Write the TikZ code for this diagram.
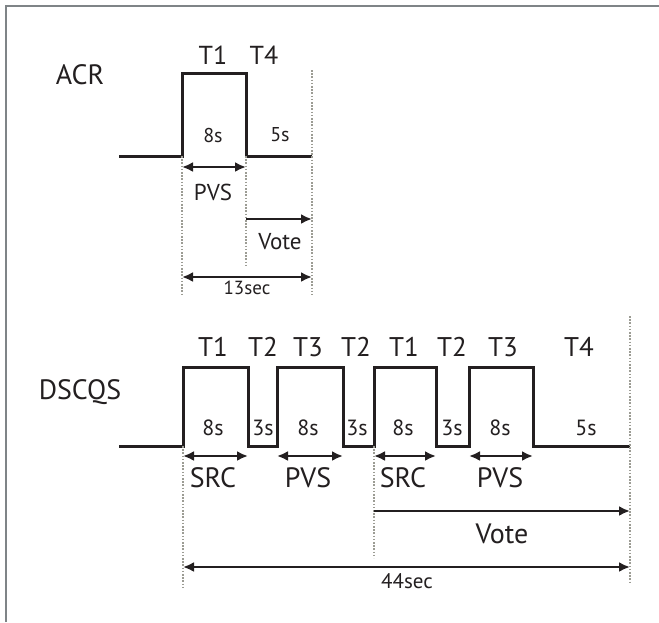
\documentclass[tikz,border=0pt]{standalone}
\usepackage{fontspec}
\setmainfont{PT Sans}
\usepackage{tikz}
\usetikzlibrary{arrows.meta, positioning, calc}
\usepackage{xcolor}
\definecolor{frameline}{HTML}{7F8487}
\definecolor{guidegray}{HTML}{9C9C94}
\definecolor{inkdark}{HTML}{231F20}

\tikzset{
    wave/.style={draw=inkdark, line width=3pt, line join=miter},
    span/.style={draw=inkdark, line width=2.2pt, {Latex[length=11pt,width=10pt]}-{Latex[length=11pt,width=10pt]}},
    spanright/.style={draw=inkdark, line width=2.2pt, -{Latex[length=11pt,width=10pt]}},
    guide/.style={draw=guidegray, line width=2pt, dash pattern=on 1.6pt off 1.6pt},
    lbl/.style={text=inkdark, inner sep=0pt, anchor=center}
}

\begin{document}
\begin{tikzpicture}[x=1pt, y=-1pt]
    \useasboundingbox (0,0) rectangle (659,622);
    \draw[frameline, line width=2pt] (6,622) -- (6,6) -- (659,6);

    % ACR timing
    \node[lbl, font=\fontsize{28}{31}\selectfont] (acr) at (80,75) {ACR};
    \coordinate (a0) at (119,156);
    \coordinate (a1) at (182,156);
    \coordinate (a2) at (246,156);
    \coordinate (a3) at (312,156);
    \draw[wave] (a0) -- (a1) -- ++(0,-83) -| (a2) -- (a3);
    \coordinate (aend) at (312,70);
    \coordinate (aL) at (182,295);
    \coordinate (aM) at (246,265);
    \coordinate (aR) at (312,295);
    \draw[guide] (a1) -- (aL);
    \draw[guide] (a2) -- (aM);
    \draw[guide] (aend) -- (aR);
    \node[lbl, font=\fontsize{26}{29}\selectfont] (acrT1) at (213,55) {T1};
    \node[lbl, font=\fontsize{26}{29}\selectfont] (acrT4) at (264,55) {T4};
    \node[lbl, font=\fontsize{20}{23}\selectfont] (acrP) at (213,135) {8s};
    \node[lbl, font=\fontsize{20}{23}\selectfont] (acrV) at (280,135) {5s};
    \coordinate (pvsA) at (182,167);
    \coordinate (pvsB) at (246,167);
    \draw[span] (pvsA) -- (pvsB);
    \node[lbl, font=\fontsize{23}{26}\selectfont] (acrPVS) at (213,192) {PVS};
    \coordinate (voteA) at (246,219);
    \coordinate (voteB) at (312,219);
    \draw[spanright] (voteA) -- (voteB);
    \node[lbl, font=\fontsize{23}{26}\selectfont] (acrVote) at (280,242) {Vote};
    \coordinate (totA) at (182,277);
    \coordinate (totB) at (312,277);
    \draw[span] (totA) -- (totB);
    \node[lbl, font=\fontsize{19}{22}\selectfont] (acrTot) at (247,288) {13sec};

    % DSCQS timing
    \node[lbl, font=\fontsize{28}{31}\selectfont] (dscqs) at (80,392) {DSCQS};
    \coordinate (d0) at (119,446);
    \coordinate (d1) at (183,446);
    \coordinate (d2) at (248,446);
    \coordinate (d3) at (277,446);
    \coordinate (d4) at (343,446);
    \coordinate (d5) at (374,446);
    \coordinate (d6) at (436,446);
    \coordinate (d7) at (469,446);
    \coordinate (d8) at (533,446);
    \coordinate (d9) at (630,446);
    \draw[wave] (d0) -- (d1) -- ++(0,-79) -| (d2) -- (d3) -- ++(0,-79) -| (d4)
        -- (d5) -- ++(0,-79) -| (d6) -- (d7) -- ++(0,-79) -| (d8) -- (d9);
    \coordinate (dTop) at (630,316);
    \coordinate (dL) at (183,587);
    \coordinate (dM) at (374,558);
    \coordinate (dR) at (630,583);
    \draw[guide] (d1) -- (dL);
    \draw[guide] (d5) -- (dM);
    \draw[guide] (dTop) -- (dR);
    \node[lbl, font=\fontsize{27}{30}\selectfont] (t1a) at (213,347) {T1};
    \node[lbl, font=\fontsize{27}{30}\selectfont] (t2a) at (263,347) {T2};
    \node[lbl, font=\fontsize{27}{30}\selectfont] (t3a) at (308,347) {T3};
    \node[lbl, font=\fontsize{27}{30}\selectfont] (t2b) at (356,347) {T2};
    \node[lbl, font=\fontsize{27}{30}\selectfont] (t1b) at (404,347) {T1};
    \node[lbl, font=\fontsize{27}{30}\selectfont] (t2c) at (452,347) {T2};
    \node[lbl, font=\fontsize{27}{30}\selectfont] (t3b) at (503,347) {T3};
    \node[lbl, font=\fontsize{27}{30}\selectfont] (t4) at (579,347) {T4};
    \node[lbl, font=\fontsize{22}{25}\selectfont] (s1) at (213,428) {8s};
    \node[lbl, font=\fontsize{22}{25}\selectfont] (s2) at (263,428) {3s};
    \node[lbl, font=\fontsize{22}{25}\selectfont] (s3) at (308,428) {8s};
    \node[lbl, font=\fontsize{22}{25}\selectfont] (s4) at (357,428) {3s};
    \node[lbl, font=\fontsize{22}{25}\selectfont] (s5) at (403,428) {8s};
    \node[lbl, font=\fontsize{22}{25}\selectfont] (s6) at (452,428) {3s};
    \node[lbl, font=\fontsize{22}{25}\selectfont] (s7) at (500,428) {8s};
    \node[lbl, font=\fontsize{22}{25}\selectfont] (s8) at (586,428) {5s};
    \coordinate (srcA) at (183,456);
    \coordinate (srcB) at (248,456);
    \coordinate (pvsC) at (277,456);
    \coordinate (pvsD) at (343,456);
    \coordinate (srcC) at (374,456);
    \coordinate (srcD) at (436,456);
    \coordinate (pvsE) at (469,456);
    \coordinate (pvsF) at (533,456);
    \draw[span] (srcA) -- (srcB);
    \draw[span] (pvsC) -- (pvsD);
    \draw[span] (srcC) -- (srcD);
    \draw[span] (pvsE) -- (pvsF);
    \node[lbl, font=\fontsize{28}{31}\selectfont] (src1) at (213,478) {SRC};
    \node[lbl, font=\fontsize{28}{31}\selectfont] (pvs1) at (308,478) {PVS};
    \node[lbl, font=\fontsize{28}{31}\selectfont] (src2) at (403,478) {SRC};
    \node[lbl, font=\fontsize{28}{31}\selectfont] (pvs2) at (500,478) {PVS};
    \coordinate (dvA) at (374,511);
    \coordinate (dvB) at (630,511);
    \draw[spanright] (dvA) -- (dvB);
    \node[lbl, font=\fontsize{28}{31}\selectfont] (dVote) at (502,534) {Vote};
    \coordinate (dtA) at (183,567);
    \coordinate (dtB) at (630,567);
    \draw[span] (dtA) -- (dtB);
    \node[lbl, font=\fontsize{21}{24}\selectfont] (dTot) at (407,581) {44sec};
\end{tikzpicture}
\end{document}
